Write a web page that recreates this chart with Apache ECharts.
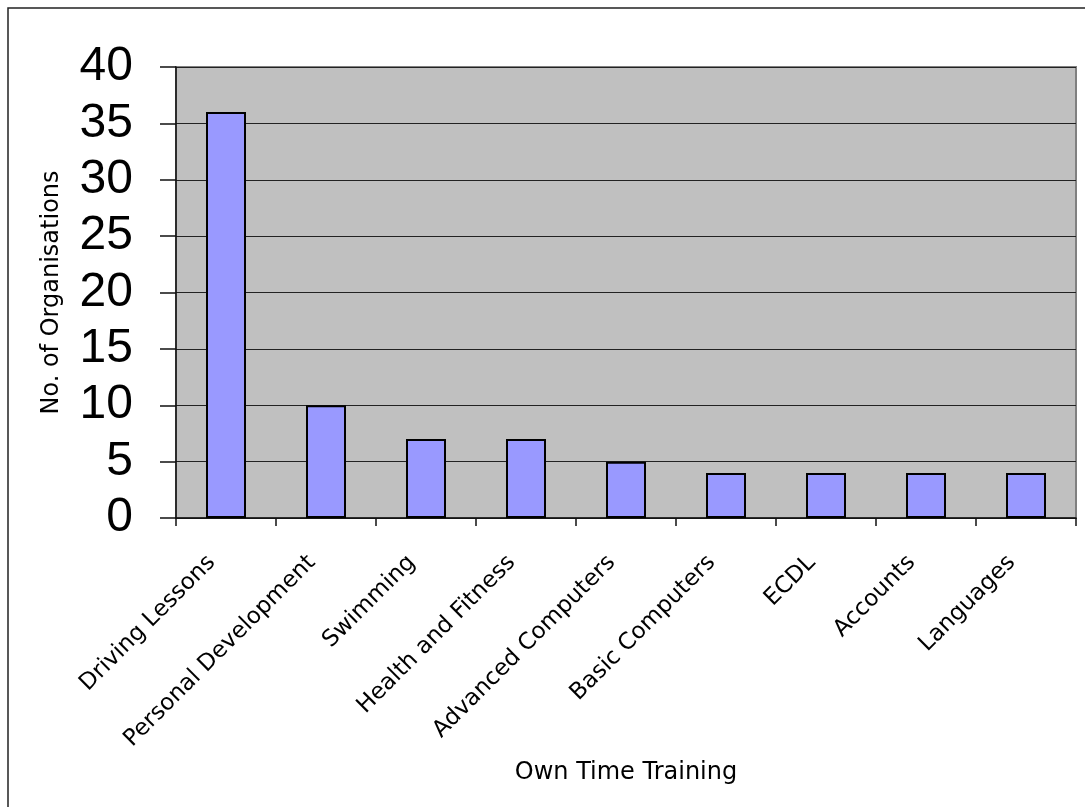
<!DOCTYPE html>
<html>
<head>
<meta charset="utf-8">
<script src="https://cdn.jsdelivr.net/npm/echarts@6/dist/echarts.min.js"></script>
<style>
  html, body { margin: 0; padding: 0; background: #ffffff; }
  #chart { width: 1085px; height: 807px; }
</style>
</head>
<body>
<div id="chart"></div>
<script>
// Training courses taken in own time
const categories = [
  'Driving Lessons', 'Personal Development', 'Swimming', 'Health and Fitness',
  'Advanced Computers', 'Basic Computers', 'ECDL', 'Accounts', 'Languages'
];
const organisations = [36, 10, 7, 7, 5, 4, 4, 4, 4];
const yTicks = { min: 0, max: 40, step: 5 };

const chart = echarts.init(document.getElementById('chart'), null, { renderer: 'canvas' });

chart.setOption({
  animation: false,
  backgroundColor: '#ffffff',
  graphic: [{
    type: 'rect',
    shape: { x: 8, y: 8, width: 1090, height: 810 },
    style: { fill: 'none', stroke: '#222222', lineWidth: 1.5 },
    silent: true,
    z: 0
  }],
  grid: {
    left: 176, top: 67, right: 9, bottom: 289,
    show: true,
    backgroundColor: '#c0c0c0',
    borderColor: '#808080',
    borderWidth: 2
  },
  xAxis: {
    type: 'category',
    data: categories,
    boundaryGap: true,
    name: 'Own Time Training',
    nameLocation: 'middle',
    nameGap: 243,
    nameTextStyle: { fontFamily: 'DejaVu Sans', fontSize: 24, color: '#000' },
    axisLine: { lineStyle: { color: '#111', width: 1.5 } },
    axisTick: { show: true, length: 8, alignWithLabel: false, lineStyle: { color: '#111', width: 1.5 } },
    axisLabel: {
      rotate: 45,
      interval: 0,
      margin: 27,
      padding: [0, 20, 0, 0],
      fontFamily: 'DejaVu Sans',
      fontSize: 23,
      color: '#000'
    },
    splitLine: { show: false }
  },
  yAxis: {
    type: 'value',
    min: yTicks.min,
    max: yTicks.max,
    interval: yTicks.step,
    name: 'No. of Organisations',
    nameLocation: 'middle',
    nameGap: 112,
    nameRotate: 90,
    nameTextStyle: { fontFamily: 'DejaVu Sans', fontSize: 24, color: '#000' },
    axisLine: { show: true, lineStyle: { color: '#111', width: 1.5 } },
    axisTick: { show: true, length: 16, lineStyle: { color: '#111', width: 1.5 } },
    axisLabel: {
      margin: 43,
      padding: [7, 0, 0, 0],
      fontFamily: 'Liberation Sans',
      fontSize: 48,
      color: '#000'
    },
    splitLine: { show: true, lineStyle: { color: '#222', width: 1 } }
  },
  series: [{
    type: 'bar',
    data: organisations,
    barWidth: '40%',
    itemStyle: { color: '#9999ff', borderColor: '#000', borderWidth: 2 }
  }]
});
</script>
</body>
</html>
